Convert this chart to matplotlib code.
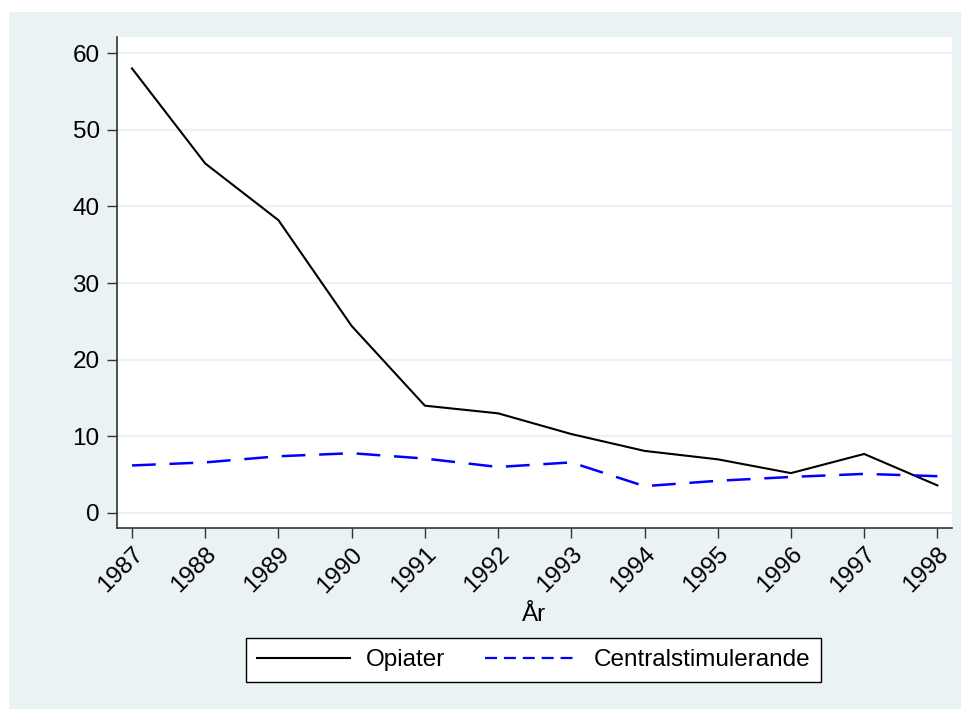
import matplotlib
matplotlib.use("Agg")
import matplotlib.pyplot as plt
from matplotlib.lines import Line2D
from matplotlib.patches import Rectangle

plt.rcParams['font.family'] = ['Liberation Sans', 'DejaVu Sans']

years = [1987, 1988, 1989, 1990, 1991, 1992, 1993, 1994, 1995, 1996, 1997, 1998]
opiater = [58.0, 45.6, 38.2, 24.4, 14.0, 13.0, 10.3, 8.1, 7.0, 5.2, 7.7, 3.6]
central = [6.2, 6.6, 7.4, 7.8, 7.1, 6.0, 6.6, 3.5, 4.2, 4.7, 5.1, 4.8]
yticks = [0, 10, 20, 30, 40, 50, 60]
series_labels = ["Opiater", "Centralstimulerande"]
xlabel = "År"

W, H = 961, 709
bg = "#EAF2F3"
fs = 17.5

fig = plt.figure(figsize=(W / 100, H / 100), dpi=100, facecolor="white")
# graph region background, inset from the top and left edges
fig.add_artist(Rectangle((9 / W, 0), 1 - 9 / W, 1 - 12 / H,
                         transform=fig.transFigure, facecolor=bg,
                         edgecolor="none", zorder=-10))

left, right, top, bottom = 117, 952, 37, 528
ax = fig.add_axes([left / W, (H - bottom) / H, (right - left) / W, (bottom - top) / H])
ax.set_facecolor("white")

ax.plot(years, opiater, color="black", lw=1.5, zorder=3)
ax.plot(years, central, color="#0000FF", lw=1.8, linestyle=(0, (9.5, 5.5)), zorder=3)

ax.set_xlim(1986.795, 1998.2)
ax.set_ylim(-1.96, 62.1)
ax.set_yticks(yticks)
ax.set_xticks(years)
ax.set_xticklabels([str(y) for y in years], rotation=45, ha="right", va="top",
                   rotation_mode="anchor", fontsize=fs)
ax.tick_params(axis="y", labelsize=fs, length=7, width=1, color="#333333", pad=5.5)
ax.tick_params(axis="x", length=7, width=1, color="#333333", pad=4)
ax.grid(axis="y", color=bg, lw=1.6, zorder=0)
ax.set_axisbelow(True)

for s in ("top", "right"):
    ax.spines[s].set_visible(False)
for s in ("left", "bottom"):
    ax.spines[s].set_color("#333333")
    ax.spines[s].set_linewidth(1.2)

fig.text(534 / W, 1 - 615 / H, xlabel, ha="center", va="center", fontsize=fs)

handles = [Line2D([], [], color="black", lw=1.5),
           Line2D([], [], color="#0000FF", lw=1.6, linestyle=(0, (5.4, 3.1)))]
leg = fig.legend(handles, series_labels, loc="center",
                 bbox_to_anchor=(533.5 / W, 1 - 660 / H), ncol=2, fontsize=fs,
                 frameon=True, fancybox=False, edgecolor="black", framealpha=1,
                 handlelength=3.84, handletextpad=0.65, columnspacing=1.62,
                 borderpad=0.45)
leg.get_frame().set_linewidth(1.0)

fig.savefig("out.png", dpi=100, facecolor="white")
